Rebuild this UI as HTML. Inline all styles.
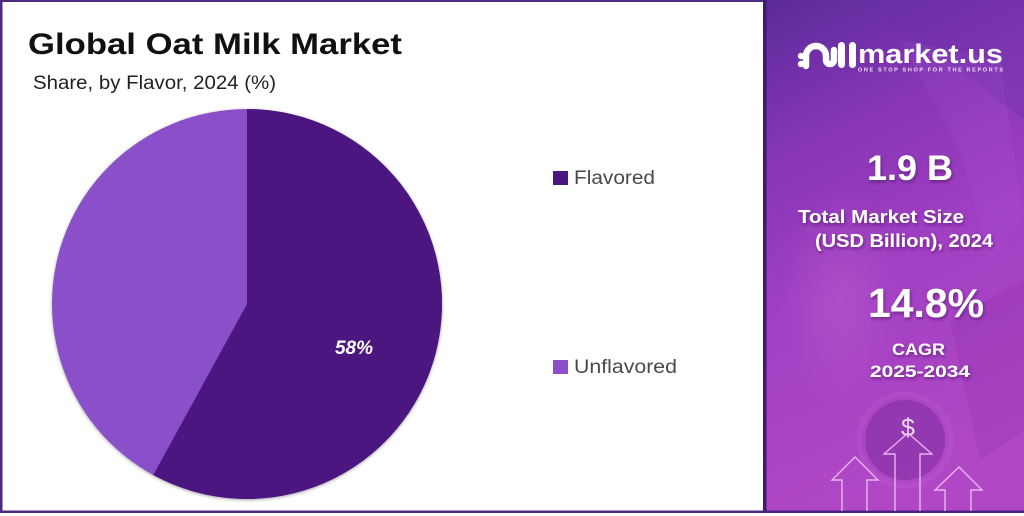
<!DOCTYPE html>
<html>
<head>
<meta charset="utf-8">
<style>
html,body{margin:0;padding:0;background:#fff;}
svg{display:block;}
</style>
</head>
<body>
<svg width="1024" height="516" viewBox="0 0 1024 516" xmlns="http://www.w3.org/2000/svg">
<defs>
  <linearGradient id="panel" x1="0" y1="0" x2="0.25" y2="1">
    <stop offset="0" stop-color="#5a2a9a"/>
    <stop offset="0.3" stop-color="#8636b4"/>
    <stop offset="0.6" stop-color="#a23fc4"/>
    <stop offset="1" stop-color="#b048c6"/>
  </linearGradient>
  <radialGradient id="glow" cx="0.5" cy="0.5" r="0.5">
    <stop offset="0" stop-color="#c060d0" stop-opacity="0.45"/>
    <stop offset="1" stop-color="#c060d0" stop-opacity="0"/>
  </radialGradient>
  <filter id="sh" x="-10%" y="-10%" width="120%" height="120%">
    <feDropShadow dx="1" dy="2" stdDeviation="1.5" flood-color="#3a0a50" flood-opacity="0.55"/>
  </filter>
  <filter id="pieSh" x="-5%" y="-5%" width="110%" height="110%">
    <feDropShadow dx="0" dy="1" stdDeviation="1.5" flood-color="#000" flood-opacity="0.35"/>
  </filter>
</defs>

<!-- left panel border -->
<rect x="0" y="0" width="764" height="513" fill="#fff"/>
<rect x="0" y="0" width="764" height="2" fill="#4b2a80"/>
<rect x="0" y="0" width="2.5" height="513" fill="#4b2a80"/>
<rect x="0" y="510.5" width="764" height="2.5" fill="#4b2a80"/>

<!-- right panel -->
<rect x="763" y="0" width="261" height="513" fill="url(#panel)"/>
<rect x="763" y="0" width="3.5" height="513" fill="#3e1a70"/>
<rect x="763" y="510.5" width="261" height="2.5" fill="#4a2080"/>
<!-- subtle background imagery -->
<polygon points="860,0 1024,0 1024,120 960,70" fill="#6a30a8" opacity="0.35"/>
<polygon points="900,40 1000,60 1024,220 990,260 960,150" fill="#b060d8" opacity="0.15"/>
<circle cx="905" cy="440" r="40" fill="#7a2a9c" opacity="0.5"/>
<circle cx="905" cy="440" r="46" fill="none" stroke="#c070d8" stroke-width="5" opacity="0.18"/>
<ellipse cx="840" cy="300" rx="60" ry="110" fill="url(#glow)"/>
<polygon points="950,320 1024,280 1024,430 980,460" fill="#8a2aa8" opacity="0.25"/>

<!-- title -->
<text x="28" y="54" font-family="Liberation Sans, sans-serif" font-weight="bold" font-size="30" fill="#111" textLength="374" lengthAdjust="spacingAndGlyphs">Global Oat Milk Market</text>
<text x="33" y="89" font-family="Liberation Sans, sans-serif" font-size="19" fill="#222" textLength="243" lengthAdjust="spacingAndGlyphs">Share, by Flavor, 2024 (%)</text>

<!-- pie -->
<g filter="url(#pieSh)">
  <circle cx="247" cy="304" r="195" fill="#8a4fc9"/>
  <path d="M247,304 L247,109 A195,195 0 1,1 153.3,475 Z" fill="#4b1680"/>
</g>
<text x="354" y="354" text-anchor="middle" font-family="Liberation Sans, sans-serif" font-weight="bold" font-style="italic" font-size="19" fill="#fff">58%</text>

<!-- legend -->
<rect x="553" y="171" width="15" height="14" fill="#4b1680"/>
<text x="574" y="184" font-family="Liberation Sans, sans-serif" font-size="19" fill="#4a4a4a" textLength="81" lengthAdjust="spacingAndGlyphs">Flavored</text>
<rect x="553" y="360" width="15" height="14" fill="#8a4fc9"/>
<text x="574" y="373" font-family="Liberation Sans, sans-serif" font-size="19" fill="#4a4a4a" textLength="103" lengthAdjust="spacingAndGlyphs">Unflavored</text>

<!-- logo -->
<g fill="#fff">
  <circle cx="801" cy="56" r="3.2"/>
  <circle cx="801" cy="64" r="3.2"/>
  <path d="M806,66 L806,56 A10,10 0 0 1 826,56 L826,60 A4,4 0 0 0 834,60 L834,50" fill="none" stroke="#fff" stroke-width="6.5" stroke-linecap="round"/>
  <rect x="838" y="42" width="7" height="26" rx="3.5"/>
  <rect x="849" y="42" width="7" height="26" rx="3.5"/>
</g>
<text x="858" y="63" font-family="Liberation Sans, sans-serif" font-weight="bold" font-size="27" fill="#fff" textLength="145" lengthAdjust="spacingAndGlyphs">market.us</text>
<text x="858" y="71.5" font-family="Liberation Sans, sans-serif" font-weight="bold" font-size="5.5" fill="#f0e0f8" textLength="145" lengthAdjust="spacing">ONE STOP SHOP FOR THE REPORTS</text>

<!-- stats -->
<g filter="url(#sh)" fill="#fff" font-family="Liberation Sans, sans-serif" font-weight="bold">
  <text x="867" y="180" font-size="35" textLength="86" lengthAdjust="spacingAndGlyphs">1.9 B</text>
  <text x="798" y="223" font-size="18" textLength="166" lengthAdjust="spacingAndGlyphs">Total Market Size</text>
  <text x="815" y="247" font-size="18" textLength="178" lengthAdjust="spacingAndGlyphs">(USD Billion), 2024</text>
  <text x="868" y="317" font-size="41" textLength="116" lengthAdjust="spacingAndGlyphs">14.8%</text>
  <text x="892" y="355" font-size="17" textLength="53" lengthAdjust="spacingAndGlyphs">CAGR</text>
  <text x="870" y="377" font-size="17" textLength="100" lengthAdjust="spacingAndGlyphs">2025-2034</text>
</g>

<!-- dollar & arrows -->
<text x="908" y="436" text-anchor="middle" font-family="Liberation Sans, sans-serif" font-size="25" fill="#f4d8fa">$</text>
<g fill="none" stroke="#f0c0f6" stroke-width="1.4" opacity="0.9">
  <path d="M842,511 L842,480 L832,480 L855,457 L878,480 L867,480 L867,511"/>
  <path d="M895,511 L895,454 L884,454 L908,433 L932,454 L920,454 L920,511"/>
  <path d="M945,511 L945,490 L935,490 L959,467 L982,490 L971,490 L971,511"/>
</g>
</svg>
</body>
</html>
